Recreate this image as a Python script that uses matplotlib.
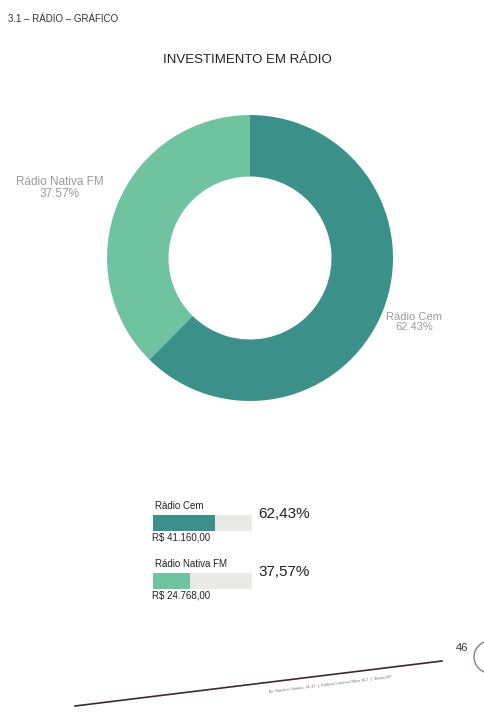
import matplotlib.pyplot as plt
import numpy as np

plt.rcParams['font.family'] = ['Liberation Sans', 'DejaVu Sans']

# data
emissoras = ['Rádio Cem', 'Rádio Nativa FM']
percentuais = [62.43, 37.57]
valores = ['R$ 41.160,00', 'R$ 24.768,00']
pct_pie = ['62.43%', '37.57%']
pct_bar = ['62,43%', '37,57%']
cores = ['#3b9189', '#6fc3a1']

W, H = 484, 713
fig = plt.figure(figsize=(W / 100, H / 100), dpi=100)
fig.patch.set_facecolor('white')

# page overlay in pixel coords
page = fig.add_axes([0, 0, 1, 1])
page.set_xlim(0, W)
page.set_ylim(H, 0)
page.axis('off')

page.text(8, 19, '3.1 – RÁDIO – GRÁFICO', fontsize=7, color='#333333', va='center')
page.text(247, 60, 'INVESTIMENTO EM RÁDIO', fontsize=9.5, color='#222222',
          ha='center', va='center')

##### donut
cx, cy, r = 250, 258, 143
ax = fig.add_axes([(cx - r) / W, 1 - (cy + r) / H, 2 * r / W, 2 * r / H])
ax.pie(percentuais, colors=cores, startangle=90, counterclock=False,
       wedgeprops=dict(width=0.43, edgecolor='none'))
ax.set_xlim(-1, 1)
ax.set_ylim(-1, 1)
ax.set_aspect('equal')
ax.axis('off')

page.text(60, 188, emissoras[1] + '\n' + pct_pie[1], fontsize=8.5, color='#9a9a9a',
          ha='center', va='center', linespacing=1.1)
page.text(414, 322, emissoras[0] + '\n' + pct_pie[0], fontsize=8, color='#9a9a9a',
          ha='center', va='center', linespacing=1.1)

##### bars
bx0, bw = 153, 99
ytop, ybot = 494, 610
bax = fig.add_axes([bx0 / W, 1 - ybot / H, bw / W, (ybot - ytop) / H])
y = np.arange(len(emissoras))
bax.barh(y, [100] * len(y), height=0.29, color='#e9e9e7')
bax.barh(y, percentuais, height=0.29, color=cores)
bax.set_xlim(0, 100)
bax.set_ylim(1.5, -0.5)
bax.axis('off')

for i in range(len(emissoras)):
    yc = 523 + 58 * i
    page.text(bx0 + 2, yc - 12, emissoras[i], fontsize=7, color='#222222',
              ha='left', va='bottom')
    page.text(bx0 - 1, yc + 10, valores[i], fontsize=7, color='#222222',
              ha='left', va='top')
    page.text(258, yc - 9, pct_bar[i], fontsize=11, color='#222222',
              ha='left', va='center')

##### footer
page.plot([75, 442], [706, 661], color='#3a2a30', linewidth=1.2)
page.text(462, 648, '46', fontsize=8, color='#333333', ha='center', va='center')
page.text(330, 684, 'Av. Nações Unidas, 14-47  |  Edifício Lumina Office SLT  |  Bauru/SP',
          fontsize=3, color='#777777', ha='center', va='center', rotation=7)
circ = plt.Circle((490, 657), 16, fill=False, color='#8a7a90', linewidth=1)
page.add_patch(circ)

plt.savefig('out.png', dpi=100)
